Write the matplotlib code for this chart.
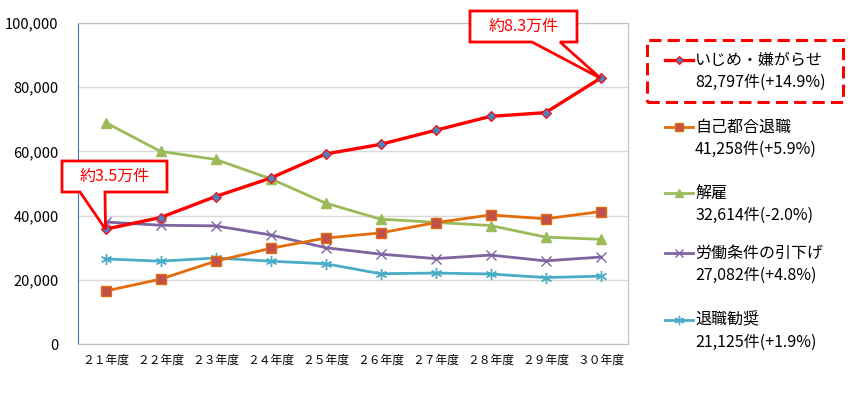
import matplotlib
matplotlib.use("Agg")
import matplotlib.pyplot as plt
from matplotlib.patches import Polygon, Rectangle
from matplotlib.lines import Line2D
from matplotlib.ticker import FuncFormatter

plt.rcParams['font.family'] = ['Noto Sans CJK JP', 'DejaVu Sans']

years = ["２１年度", "２２年度", "２３年度", "２４年度", "２５年度",
         "２６年度", "２７年度", "２８年度", "２９年度", "３０年度"]

ijime = [35759, 39405, 45939, 51670, 59197, 62191, 66566, 70917, 72067, 82797]
jiko = [16500, 20200, 25800, 29800, 33000, 34600, 37800, 40200, 39000, 41258]
kaiko = [69000, 60000, 57500, 51500, 43900, 38900, 37900, 36900, 33300, 32614]
hikisage = [38000, 37000, 36800, 34000, 30000, 28000, 26600, 27700, 25900, 27082]
kansho = [26500, 25800, 26800, 25800, 25000, 21900, 22100, 21800, 20700, 21125]

names = ["いじめ・嫌がらせ", "自己都合退職", "解雇", "労働条件の引下げ", "退職勧奨"]
counts = ["82,797件(+14.9%)", "41,258件(+5.9%)", "32,614件(-2.0%)",
          "27,082件(+4.8%)", "21,125件(+1.9%)"]
callouts = ["約3.5万件", "約8.3万件"]

W, H = 861, 395
fig = plt.figure(figsize=(W / 100, H / 100), dpi=100)
ax = fig.add_axes([78 / W, 1 - 344 / H, 550 / W, 321 / H])

x = list(range(len(years)))
styles = [
    dict(color="#FF0000", lw=2.4, marker="D", ms=5, mfc="#4F81BD", mec="#FF0000", mew=0.8, zorder=6),
    dict(color="#E46C0A", lw=2.0, marker="s", ms=6.5, mfc="#C0504D", mec="#E46C0A", mew=1.0, zorder=5),
    dict(color="#9BBB59", lw=2.0, marker="^", ms=7, mfc="#9BBB59", mec="#9BBB59", zorder=4),
    dict(color="#8064A2", lw=2.0, marker="x", ms=7, mec="#8064A2", mew=1.0, zorder=3),
    dict(color="#4BACC6", lw=2.0, marker=(6, 2, 0), ms=8, mec="#4BACC6", mew=1.0, zorder=3),
]
series = [ijime, jiko, kaiko, hikisage, kansho]
for s, st in zip(series, styles):
    ax.plot(x, s, **st)

ax.set_xlim(-0.5, len(years) - 0.5)
ax.set_ylim(0, 100000)
ax.set_yticks(range(0, 100001, 20000))
ax.yaxis.set_major_formatter(FuncFormatter(lambda v, p: f"{int(v):,}"))
ax.set_xticks(x)
ax.set_xticklabels(years, fontsize=8.5)
ax.tick_params(axis='y', length=0, pad=14, labelsize=10.5)
ax.tick_params(axis='x', length=0, pad=7)
ax.grid(axis='y', color="#D9D9D9", lw=1)
ax.set_axisbelow(True)
for sp in ["top", "right", "bottom"]:
    ax.spines[sp].set_color("#BFBFBF")
ax.spines["left"].set_color("#4472C4")

# Legend (manual)
first_y = [60, 127, 193, 253, 320]
line_keys = ("color", "lw")
mark_keys = ("marker", "ms", "mfc", "mec", "mew")
for i, st in enumerate(styles):
    yy = 1 - first_y[i] / H
    ln = Line2D([665 / W, 693 / W], [yy, yy], transform=fig.transFigure,
                **{k: st[k] for k in line_keys})
    fig.add_artist(ln)
    mk = {k: st[k] for k in mark_keys if k in st}
    mk["ms"] = mk["ms"] * 0.85
    fig.add_artist(Line2D([679 / W], [yy], transform=fig.transFigure,
                          linestyle="none", **mk))
    fig.text(695 / W, yy, names[i], fontsize=11.5, va="center", ha="left", color="#000000")
    fig.text(695 / W, 1 - (first_y[i] + 22) / H, counts[i], fontsize=11.5,
             va="center", ha="left", color="#000000")

box = Rectangle((647 / W, 1 - 102 / H), 196 / W, 62 / H, transform=fig.transFigure,
                fill=False, edgecolor="#FF0000", lw=2.2, linestyle=(0, (4, 2)))
fig.add_artist(box)

# Callouts
def callout(text, box_px, attach, idx, series_vals):
    x0, y0, x1, y1 = box_px  # pixel coords from top-left
    tip = ax.transData.transform((idx, series_vals[idx]))
    a0, a1 = attach
    verts = [(x0, H - y0), (x1, H - y0), (x1, H - y1), (a1, H - y1),
             (tip[0], tip[1]), (a0, H - y1), (x0, H - y1)]
    poly = Polygon(verts, closed=True, transform=None, facecolor="white",
                   edgecolor="#FF0000", lw=2.0, zorder=10)
    fig.add_artist(poly)
    fig.text((x0 + x1) / 2 / W, 1 - (y0 + y1) / 2 / H, text, color="#FF0000",
             fontsize=11.5, ha="center", va="center", zorder=11)

fig.canvas.draw()
callout(callouts[0], (62, 161, 167, 192), (80, 105), 0, ijime)
callout(callouts[1], (470, 11, 577, 42), (532, 560), 9, ijime)

fig.savefig("out.png", dpi=100)
